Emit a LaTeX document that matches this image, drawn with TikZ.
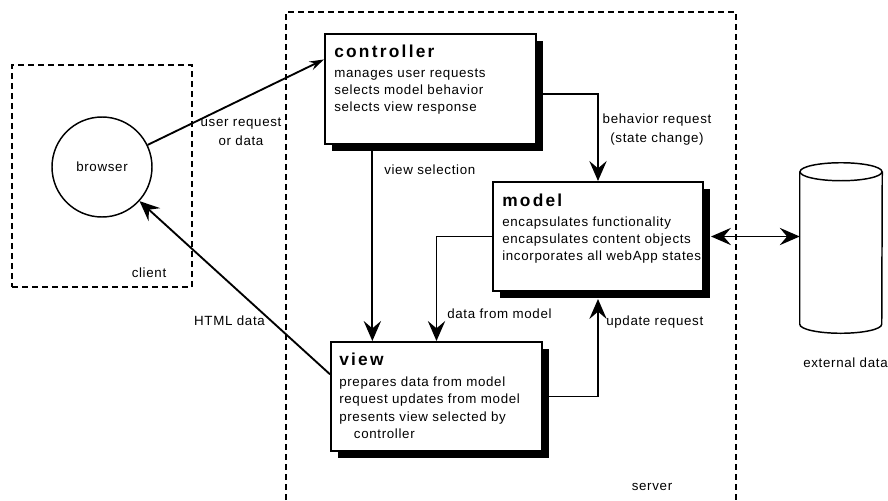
\documentclass[tikz,border=0pt]{standalone}
\usepackage{fontspec}
\setmainfont{Liberation Sans}[LetterSpace=5.0]
\newfontfamily\headfont{Liberation Sans}[LetterSpace=13.0]
\usetikzlibrary{arrows.meta,calc,positioning,shadows}
\newcommand{\parttitle}[1]{{\headfont\bfseries\fontsize{13}{16}\selectfont #1}}

\begin{document}
\begin{tikzpicture}[
  x=0.75pt, y=-0.75pt,
  font=\fontsize{10}{13}\selectfont,
  >={Stealth[length=15pt,width=13pt,inset=5.5pt]},
  signal/.style={->, draw=black, line width=1.4pt},
  both/.style={<->, draw=black, line width=1.2pt},
  region/.style={draw=black, line width=1.3pt, dash pattern=on 4.5pt off 3pt},
  component/.style={
    draw=black, fill=white, line width=1.5pt,
    minimum width=158.25pt, minimum height=81.75pt,
    drop shadow={opacity=1, fill=black,
      shadow xshift=5.25pt, shadow yshift=-5.25pt}
  },
  cask/.style={draw=black, line width=1.1pt},
  blurb/.style={align=left, inner sep=0pt, anchor=north west},
  annotation/.style={align=center, inner sep=0pt}
]
\useasboundingbox (0,0) rectangle (888,500);

% Client side and server side.
\node[region, minimum width=135pt, minimum height=166.5pt]
  (clientZone) at (102,176) {};
\node[annotation] (clientLabel) at (149,273) {client};
\node[draw=black, line width=1.1pt, circle, minimum size=75pt, inner sep=0pt]
  (browser) at (102,167) {browser};

\coordinate (serverSW) at (286,500);
\coordinate (serverNE) at (736,12);
\draw[region] (serverSW) |- (serverNE) -- (serverNE |- serverSW);
\node[annotation] (serverLabel) at (652,487) {server};

% The three webApp components.
\node[component, minimum height=82.5pt] (ctrl) at (430.5,89) {};
\node[blurb] (ctrlText) at ($(ctrl.north west)+(10,12)$)
  {\parttitle{controller}\\[1.5pt]
   manages user requests\\
   selects model behavior\\
   selects view response};

\node[component, minimum width=157.5pt] (model) at (598,236.5) {};
\node[blurb] (modelText) at ($(model.north west)+(10,13)$)
  {\parttitle{model}\\[1.5pt]
   encapsulates functionality\\
   encapsulates content objects\\
   incorporates all webApp states};

\node[component] (view) at (436.5,396.5) {};
\node[blurb] (viewText) at ($(view.north west)+(9,12)$)
  {\parttitle{view}\\[2.5pt]
   prepares data from model\\
   request updates from model\\
   presents view selected by\\
   \hspace*{11pt}controller};

% External data store.
\node[minimum width=61.5pt, minimum height=127.5pt, inner sep=0pt]
  (extdata) at (841,248) {};
\draw[cask] ($(extdata.north west)+(0,9)$)
  -- ($(extdata.south west)+(0,-9)$)
  arc[start angle=180, end angle=360, x radius=30.75pt, y radius=6.75pt]
  -- ($(extdata.north east)+(0,9)$);
\draw[cask] ($(extdata.north)+(0,9)$)
  ellipse[x radius=30.75pt, y radius=6.75pt];
\node[annotation, anchor=west] (extdataLabel) at (803,363) {external data};

% Requests and responses.
\coordinate (ctrlIn) at ($(ctrl.north west)!0.236!(ctrl.south west)$);
\coordinate (viewOut) at ($(view.north west)!0.30!(view.south west)$);
\coordinate (ctrlDrop) at ($(ctrl.south west)!0.227!(ctrl.south east)$);
\coordinate (ctrlOut) at ($(ctrl.east)+(0,5)$);

\draw[signal, >={Stealth[length=11pt,width=7pt,inset=4pt]}]
  (browser) -- (ctrlIn);
\draw[signal] (viewOut) -- (browser);
\draw[signal] (ctrlDrop) -- (ctrlDrop |- view.north);
\draw[signal] (ctrlOut) -| (model.north);
\draw[signal] (model.west) -| (view.north);
\draw[signal, shorten >=5.25pt] (view.east) -| (model.south);
\draw[both, shorten <=5.25pt] (model.east) -- (model.east -| extdata.west);

% Connector labels.
\node[annotation] (requestLabel) at (241,132) {user request\\[1.25pt]or data};
\node[annotation] (htmlLabel) at (229.5,321) {HTML data};
\node[annotation, anchor=west] (selectLabel) at (384,170) {view selection};
\node[annotation] (behaviorLabel) at (657,129.5)
  {behavior request\\[1.25pt](state change)};
\node[annotation, anchor=west] (dataLabel) at (447,314) {data from model};
\node[annotation, anchor=west] (updateLabel) at (606,322) {update request};

\end{tikzpicture}
\end{document}
